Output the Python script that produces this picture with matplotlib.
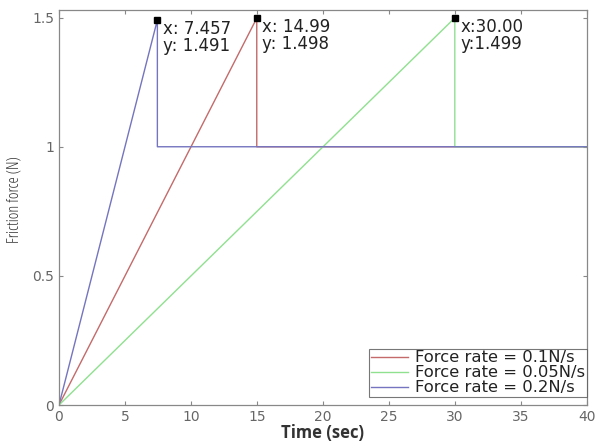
import matplotlib
matplotlib.use("Agg")
import matplotlib.pyplot as plt

# Data
t_red = [0, 14.99, 14.99, 40]
f_red = [0, 1.498, 1.0, 1.0]
t_green = [0, 30.00, 30.00, 40]
f_green = [0, 1.499, 1.0, 1.0]
t_blue = [0, 7.457, 7.457, 40]
f_blue = [0, 1.491, 1.0, 1.0]
labels = ["Force rate = 0.1N/s", "Force rate = 0.05N/s", "Force rate = 0.2N/s"]
peaks_x = [7.457, 14.99, 30.00]
peaks_y = [1.491, 1.498, 1.499]
tips = ["x: 7.457\ny: 1.491", "x: 14.99\ny: 1.498", "x:30.00\ny:1.499"]
xticks = [0, 5, 10, 15, 20, 25, 30, 35, 40]
yticks = [0, 0.5, 1, 1.5]
yticklabels = ["0", "0.5", "1", "1.5"]

plt.rcParams['font.family'] = ['DejaVu Sans']

fig = plt.figure(figsize=(5.97, 4.41), dpi=100)
ax = fig.add_axes([0.0988, 0.0816, 0.884, 0.896])

c_red = '#c46a6a'
c_green = '#8fe08f'
c_blue = '#7474c0'
ax.plot(t_red, f_red, color=c_red, lw=1.0, label=labels[0])
ax.plot(t_green, f_green, color=c_green, lw=1.0, label=labels[1])
ax.plot(t_blue, f_blue, color=c_blue, lw=1.0, label=labels[2])

ax.plot(peaks_x, peaks_y, 's', color='black', ms=4.5, zorder=5)
for x, y, s in zip(peaks_x, peaks_y, tips):
    ax.annotate(s, xy=(x, y), xytext=(4, 0), textcoords='offset points',
                ha='left', va='top', fontsize=12, linespacing=0.95,
                color='#222222',
                bbox=dict(facecolor='white', edgecolor='none', pad=0.5, alpha=0.85))

ax.set_xlim(0, 40)
ax.set_ylim(0, 1.53)
ax.set_xticks(xticks)
ax.set_yticks(yticks)
ax.set_yticklabels(yticklabels)
ax.tick_params(direction='in', top=True, right=True, length=3,
               colors='#888888', labelcolor='#666666', labelsize=10, width=0.8)
for sp in ax.spines.values():
    sp.set_color('#888888')
    sp.set_linewidth(0.9)

ax.set_xlabel('Time (sec)', fontsize=12, fontweight='bold', color='#333333', labelpad=0,
              family=['Open Sans', 'DejaVu Sans'])
ax.set_ylabel('Friction force (N)', fontsize=11.5, color='#333333',
              family=['Open Sans', 'DejaVu Sans'], fontstretch='condensed')
ax.yaxis.set_label_coords(-0.07, 0.52)

leg = ax.legend(loc='lower right', bbox_to_anchor=(1.0, 0.02), fontsize=11.8,
                frameon=True, fancybox=False,
                borderpad=0.1, labelspacing=0.0, handlelength=2.3,
                handletextpad=0.4, borderaxespad=0.0)
leg.get_frame().set_edgecolor('#555555')
leg.get_frame().set_linewidth(0.8)
for t in leg.get_texts():
    t.set_color('#222222')

fig.savefig('out.png', dpi=100)
